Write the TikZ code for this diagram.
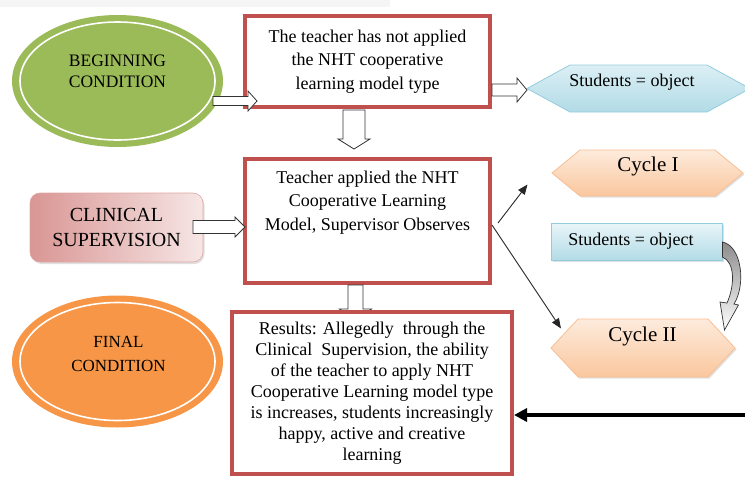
\documentclass[tikz,border=0pt]{standalone}
\usepackage{fontspec}
\setmainfont{Liberation Serif}
\usetikzlibrary{arrows.meta,shadows,calc,shapes.geometric,backgrounds}
\definecolor{gr}{HTML}{9BBB59}
\definecolor{orng}{HTML}{F79646}
\definecolor{redb}{HTML}{C0504D}
\definecolor{pinkd}{HTML}{D99694}
\definecolor{pinkl}{HTML}{F2DCDB}
\definecolor{bluel}{HTML}{DCEFF5}
\definecolor{blued}{HTML}{B2DBE6}
\definecolor{blueb}{HTML}{93CDDD}
\definecolor{peachl}{HTML}{FDEBDC}
\definecolor{peachd}{HTML}{FAC79E}
\definecolor{peachb}{HTML}{F9BE92}
\newcommand\rblk[6]{% y, x1, x2, body half, head half, head length
  \draw[blk] (#2,#1-#4) -- (#3-#6,#1-#4) -- (#3-#6,#1-#5) -- (#3,#1) -- (#3-#6,#1+#5) -- (#3-#6,#1+#4) -- (#2,#1+#4) -- cycle;}
\newcommand\dblk[6]{% x, y1, y2, body half, head half, head length
  \draw[blk] (#1-#4,#2) -- (#1-#4,#3-#6) -- (#1-#5,#3-#6) -- (#1,#3) -- (#1+#5,#3-#6) -- (#1+#4,#3-#6) -- (#1+#4,#2) -- cycle;}
\newcommand\hexa[6]{% style, xl, xr, yt, yb, slant
  \draw[#1] (#2,{(#4+#5)/2}) -- (#2+#6,#4) -- (#3-#6,#4) -- (#3,{(#4+#5)/2}) -- (#3-#6,#5) -- (#2+#6,#5) -- cycle;}
\tikzset{
  redbox/.style={draw=redb, line width=4pt, fill=white, inner sep=0pt, align=center,
    font=\fontsize{18}{23.5}\selectfont},
  ellnode/.style={ellipse, minimum width=211, minimum height=132, inner sep=0pt, draw=none},
  txt/.style={inner sep=0pt, align=center},
  blk/.style={draw=black!80, line width=0.8pt, fill=white, line join=miter},
  thinarr/.style={draw=black!85, line width=0.9pt, -{Triangle[length=10pt,width=8pt]}},
  thickarr/.style={draw=black, line width=3.5pt, -{Triangle[length=13pt,width=13pt]}},
  bluehex/.style={draw=blueb, line width=0.8pt, top color=bluel, bottom color=blued},
  peachhex/.style={draw=peachb, line width=0.8pt, top color=peachl, bottom color=peachd,
    general shadow={fill=black!35, opacity=0.35, shadow xshift=1.5pt, shadow yshift=-1.5pt}},
}
\begin{document}
\begin{tikzpicture}[x=1pt,y=-1pt]
\useasboundingbox (0,0) rectangle (745,477);
\fill[black!4] (0,0) rectangle (390,7);

% ellipses
\node[ellnode, fill=gr] (beg) at (117.5,81) {};
\draw[white, line width=1.6pt] (beg.center) ellipse [x radius=97.5, y radius=59];
\node[txt, font=\fontsize{17.5}{21}\selectfont] (begtxt) at (117.5,71.5) {BEGINNING\\CONDITION};

\node[ellnode, fill=orng] (fin) at (117.5,361.5) {};
\draw[white, line width=1.6pt] (fin.center) ellipse [x radius=97.5, y radius=59];
\node[txt, font=\fontsize{17}{24}\selectfont] (fintxt) at (118.5,354) {FINAL\\CONDITION};

% clinical supervision
\node[rounded corners=10pt, minimum width=173, minimum height=69, inner sep=0pt,
  left color=pinkd, right color=pinkl!70!white, draw=pinkd!85, line width=0.6pt,
  general shadow={fill=black!40, opacity=0.3, shadow xshift=1.5pt, shadow yshift=-2pt},
  align=center, font=\fontsize{20}{25}\selectfont] (clin) at (116.5,227.5) {CLINICAL\\SUPERVISION};

% red boxes
\node[redbox, minimum width=245, minimum height=91] (box1) at (367.5,61.5)
  {The teacher has not applied\\the NHT cooperative\\learning model type};
\dblk{354}{110}{149}{11}{16}{10}
\node[redbox, minimum width=245, minimum height=124] (box2) at (367.5,221) {};
\node[txt, anchor=north, font=\fontsize{18}{23.5}\selectfont] (box2txt) at (367.5,170.5)
  {Teacher applied the NHT\\Cooperative Learning\\Model, Supervisor Observes};
\dblk{355.5}{285}{321}{7.5}{16}{12}
\node[redbox, minimum width=280, minimum height=162, font=\fontsize{18}{21}\selectfont] (box3) at (372,393)
  {Results: Allegedly\ \ through the\\Clinical\ \ Supervision, the ability\\of the teacher to apply NHT\\Cooperative Learning model type\\is increases, students increasingly\\happy, active and creative\\learning};

% block arrows
\rblk{101}{213}{257}{4.5}{10}{9}
\rblk{90}{492}{527}{6}{12}{10}
\rblk{227}{193}{245}{6.5}{10}{10}

% hexagons
\begin{scope}[on background layer]
\hexa{bluehex}{527}{750}{65}{112}{43}
\hexa{peachhex}{552}{743}{150}{196}{28}
\hexa{peachhex}{551}{735}{319}{377}{27}
\end{scope}
\node[txt, font=\fontsize{18}{22}\selectfont] (stu1) at (632,82.5) {Students = object};
\node[txt, font=\fontsize{21}{25}\selectfont] (cyc1) at (648,166) {Cycle I};
\node[txt, font=\fontsize{21}{25}\selectfont] (cyc2) at (642.5,336.5) {Cycle II};

% students rectangle
\node[draw=blueb, line width=0.8pt, top color=bluel!60!white, bottom color=blued,
  minimum width=171, minimum height=37, inner sep=0pt,
  general shadow={fill=black!40, opacity=0.3, shadow xshift=1.5pt, shadow yshift=-1.5pt}]
  (stu2) at (636.5,241.5) {};
\node[txt, font=\fontsize{18}{22}\selectfont] (stu2txt) at (631,241) {Students = object};

% curved arrow
\draw[draw=black!80, line width=0.7pt, top color=black!45, bottom color=white, line join=miter]
  (stu2.east |- 0,242) .. controls (742,246) and (746,285) .. (734,304)
  -- (738.5,305) -- (724.5,330) -- (720,302) -- (727,303)
  .. controls (735,285) and (735,262) .. (stu2.east |- 0,257) -- cycle;

% thin arrows
\coordinate (a1s) at (498,223);
\coordinate (a1e) at (527.5,184.5);
\draw[thinarr] (a1s) -- (a1e);
\coordinate (a2s) at (492,225);
\coordinate (a2e) at (561,328.5);
\draw[thinarr] (a2s) -- (a2e);

% thick arrow
\coordinate (rin) at (752,415);
\draw[thickarr] (rin) -- (box3.east |- rin);
\end{tikzpicture}
\end{document}
